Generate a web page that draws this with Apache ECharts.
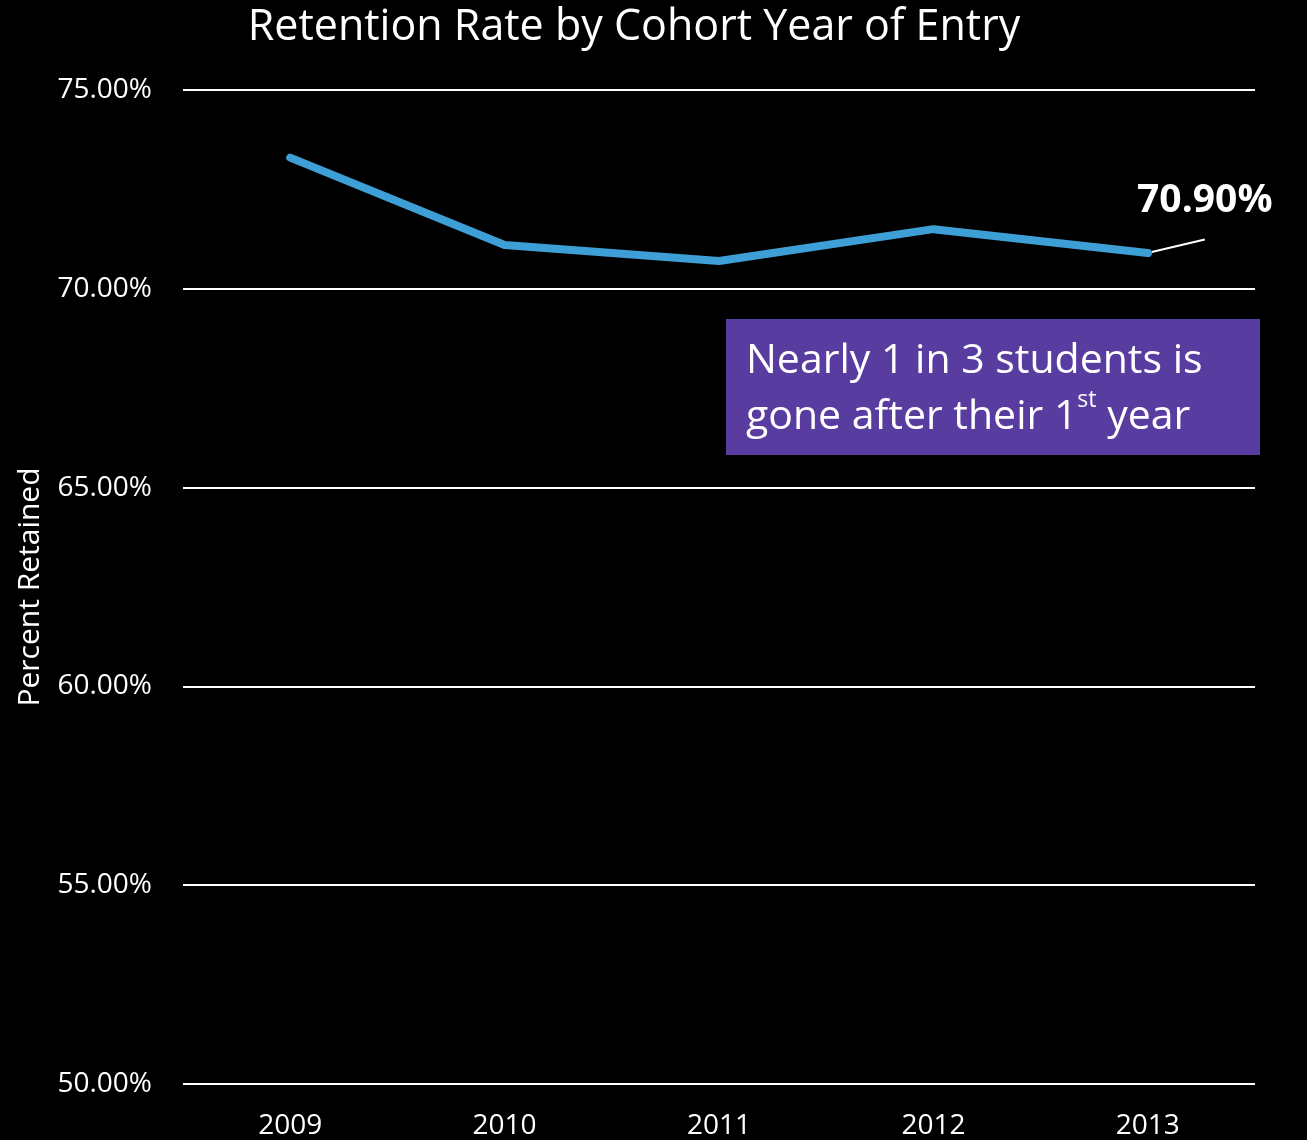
<!DOCTYPE html>
<html>
<head>
<meta charset="utf-8">
<script src="https://cdn.jsdelivr.net/npm/echarts@6/dist/echarts.min.js"></script>
<style>
  html, body { margin: 0; padding: 0; background: #000; }
  #chart { width: 1307px; height: 1140px; }
</style>
</head>
<body>
<div id="chart"></div>
<script>
// data
var years = ['2009', '2010', '2011', '2012', '2013']
var retained = [73.3, 71.1, 70.7, 71.5, 70.9]
var yTicks = { min: 50, max: 75, step: 5 }

var font = '"Open Sans", "Noto Sans", sans-serif'
var chart = echarts.init(document.getElementById('chart'))

var seriesData = retained.map(function (v, i) {
  if (i !== retained.length - 1) return v
  // callout on the last year
  return {
    value: v,
    symbol: 'circle',
    symbolSize: 8,
    itemStyle: { color: '#3d9fd5' },
    label: {
      show: true,
      position: 'top',
      offset: [57, -24],
      formatter: function (p) { return p.value.toFixed(2) + '%' },
      color: '#fff',
      fontFamily: font,
      fontWeight: 'bold',
      fontSize: 39
    },
    labelLine: { show: true, lineStyle: { color: '#fff', width: 2 } }
  }
})

chart.setOption({
  backgroundColor: '#000',
  animation: false,
  title: {
    text: 'Retention Rate by Cohort Year of Entry',
    left: 629,
    textAlign: 'center',
    top: 1,
    textStyle: { color: '#fff', fontFamily: font, fontWeight: 'normal', fontSize: 43 }
  },
  grid: { left: 183, right: 52, top: 90, bottom: 56 },
  xAxis: {
    type: 'category',
    data: years,
    boundaryGap: true,
    axisLine: { show: false },
    axisTick: { show: false },
    axisLabel: { color: '#fff', fontFamily: font, fontSize: 28, margin: 28 }
  },
  yAxis: {
    type: 'value',
    min: yTicks.min,
    max: yTicks.max,
    interval: yTicks.step,
    name: 'Percent Retained',
    nameLocation: 'middle',
    nameGap: 138,
    nameTextStyle: { color: '#fff', fontFamily: font, fontSize: 30 },
    axisLine: { show: false },
    axisTick: { show: false },
    axisLabel: {
      color: '#fff', fontFamily: font, fontSize: 28, margin: 31,
      formatter: function (v) { return v.toFixed(2) + '%' }
    },
    splitLine: { lineStyle: { color: '#fff', width: 2 } }
  },
  series: [{
    type: 'line',
    data: seriesData,
    symbol: 'none',
    lineStyle: { color: '#3d9fd5', width: 8, cap: 'round', join: 'round' },
    z: 5
  }],
  graphic: [{
    type: 'rect',
    shape: { x: 726, y: 319, width: 534, height: 136 },
    style: { fill: '#583c9f' },
    z: 10
  }, {
    type: 'text',
    x: 746,
    y: 333,
    z: 11,
    style: {
      text: '{a|Nearly 1 in 3 students is}\n{a|gone after their 1}{s|st}{a| year}',
      fill: '#fff',
      rich: {
        a: { fontFamily: font, fontSize: 41, lineHeight: 56, color: '#fff' },
        s: { fontFamily: font, fontSize: 23, lineHeight: 56, color: '#fff', verticalAlign: 'top', padding: [0, 0, 12, 0] }
      }
    }
  }]
})
</script>
</body>
</html>
